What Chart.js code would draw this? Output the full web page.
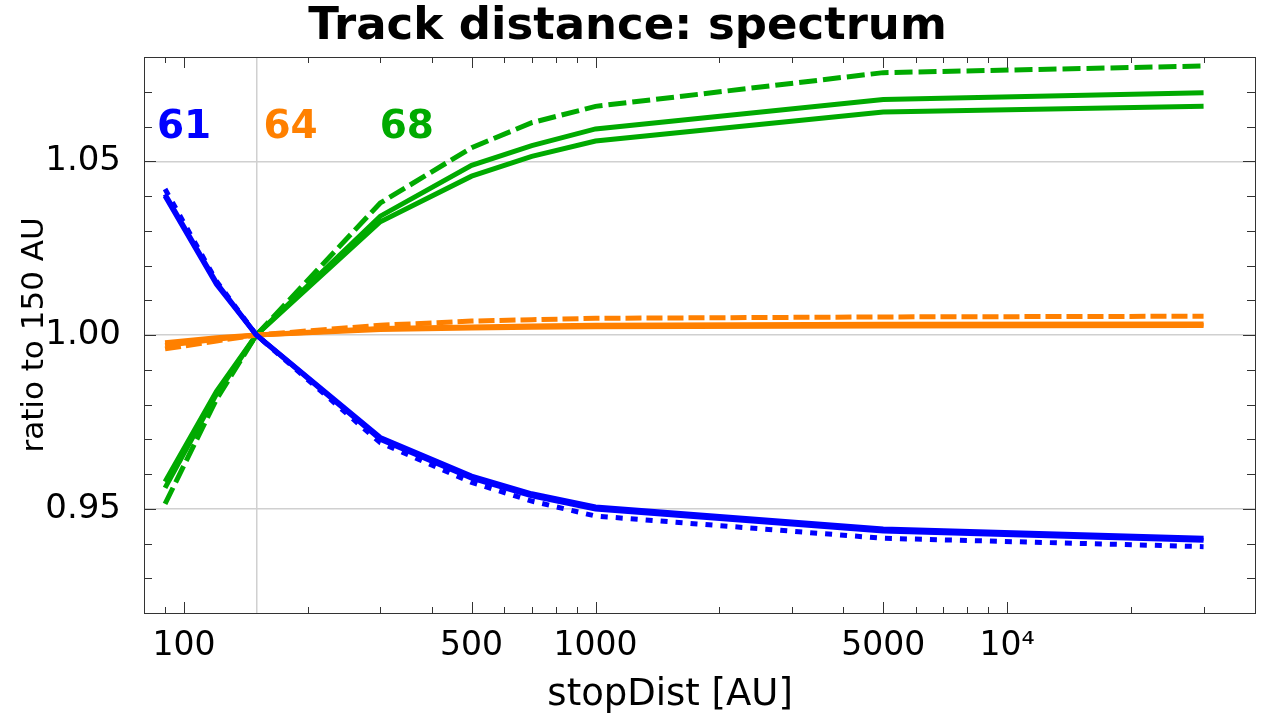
<!DOCTYPE html>
<html>
<head>
<meta charset="utf-8">
<script src="https://cdn.jsdelivr.net/npm/chart.js@4.4.1/dist/chart.umd.min.js"></script>
<style>
  html, body { margin: 0; padding: 0; background: #fff; }
  canvas { display: block; }
</style>
</head>
<body>
<canvas id="chart" width="1263" height="727"></canvas>
<script>
// stopDist values [AU]
const stopDist = [90, 120, 150, 300, 500, 700, 1000, 5000, 30000];

// ratio to 150 AU
const blueSolidA  = [1.0405, 1.0150, 1, 0.9705, 0.9594, 0.9543, 0.9505, 0.9442, 0.9415];
const blueSolidB  = [1.0400, 1.0146, 1, 0.9700, 0.9588, 0.9537, 0.9499, 0.9436, 0.9409];
const blueDotted  = [1.0420, 1.0155, 1, 0.9690, 0.9576, 0.9522, 0.9479, 0.9415, 0.9391];

const orangeSolidA = [0.9978, 0.9992, 1, 1.0019, 1.0023, 1.0026, 1.0028, 1.0031, 1.0032];
const orangeSolidB = [0.9970, 0.9988, 1, 1.0016, 1.0020, 1.0022, 1.0024, 1.0026, 1.0027];
const orangeDashed = [0.9960, 0.9983, 1, 1.0028, 1.0040, 1.0044, 1.0048, 1.0052, 1.0054];

const greenSolidA  = [0.9578, 0.9838, 1, 1.0342, 1.0488, 1.0545, 1.0593, 1.0678, 1.0697];
const greenSolidB  = [0.9560, 0.9830, 1, 1.0326, 1.0457, 1.0514, 1.0558, 1.0642, 1.0658];
const greenDashed  = [0.9514, 0.9815, 1, 1.0380, 1.0539, 1.0611, 1.0658, 1.0755, 1.0774];

// axis ticks
const xLabelTicks = [100, 500, 1000, 5000, 10000];
const xGridTicks = [150];
const xMinorTicks = [90, 200, 300, 400, 600, 700, 800, 900, 2000, 3000, 4000,
                     6000, 7000, 8000, 9000, 20000, 30000];
const yLabelTicks = [0.95, 1.00, 1.05];
const yMinorTicks = [0.93, 0.94, 0.96, 0.97, 0.98, 0.99, 1.01, 1.02, 1.03, 1.04, 1.06, 1.07];

// labels written in the plot
const seriesLabels = ['61', '64', '68'];
const labelX = [86, 156, 299];
const labelY = [1.0568, 1.0568, 1.0568];

const BLUE = '#0000ff';
const ORANGE = '#ff8000';
const GREEN = '#00aa00';
const FONT = "'DejaVu Sans', sans-serif";

function toPoints(ys) {
    return stopDist.map((x, i) => ({ x: x, y: ys[i] }));
}

function line(ys, color, dash) {
    return {
        data: toPoints(ys),
        borderColor: color,
        borderWidth: 5,
        borderDash: dash || [],
        borderCapStyle: 'butt',
        pointRadius: 0,
        tension: 0,
        fill: false,
    };
}

// frame, inward tick marks and the 61/64/68 labels
const framePlugin = {
    id: 'frame',
    afterDraw(chart) {
        const ctx = chart.ctx;
        const area = chart.chartArea;
        const xs = chart.scales.x;
        const ys = chart.scales.y;
        ctx.save();
        ctx.strokeStyle = '#333';
        ctx.lineWidth = 1;
        ctx.beginPath();
        const tickX = (v, len) => {
            const px = Math.round(xs.getPixelForValue(v)) + 0.5;
            ctx.moveTo(px, area.bottom); ctx.lineTo(px, area.bottom - len);
            ctx.moveTo(px, area.top); ctx.lineTo(px, area.top + len);
        };
        const tickY = (v, len) => {
            const py = Math.round(ys.getPixelForValue(v)) + 0.5;
            ctx.moveTo(area.left, py); ctx.lineTo(area.left + len, py);
            ctx.moveTo(area.right, py); ctx.lineTo(area.right - len, py);
        };
        xLabelTicks.forEach(v => tickX(v, 11));
        xMinorTicks.forEach(v => tickX(v, 6));
        yLabelTicks.forEach(v => tickY(v, 12));
        yMinorTicks.forEach(v => tickY(v, 8));
        ctx.stroke();
        ctx.strokeRect(Math.round(area.left) + 0.5, Math.round(area.top) + 0.5,
                       Math.round(area.right - area.left), Math.round(area.bottom - area.top));

        const colors = [BLUE, ORANGE, GREEN];
        ctx.font = 'bold 39px ' + FONT;
        ctx.textAlign = 'left';
        ctx.textBaseline = 'alphabetic';
        seriesLabels.forEach((t, i) => {
            ctx.fillStyle = colors[i];
            ctx.fillText(t, xs.getPixelForValue(labelX[i]), ys.getPixelForValue(labelY[i]));
        });
        ctx.restore();
    }
};

const ctx = document.getElementById('chart').getContext('2d');
new Chart(ctx, {
    type: 'line',
    data: {
        datasets: [
            line(blueDotted, BLUE, [7, 8]),
            line(blueSolidA, BLUE),
            line(blueSolidB, BLUE),
            line(orangeDashed, ORANGE, [16, 5]),
            line(orangeSolidA, ORANGE),
            line(orangeSolidB, ORANGE),
            line(greenDashed, GREEN, [18, 6]),
            line(greenSolidA, GREEN),
            line(greenSolidB, GREEN),
        ],
    },
    options: {
        responsive: false,
        animation: false,
        devicePixelRatio: 1,
        layout: { padding: { left: 0, right: 8, top: 0, bottom: 0 } },
        plugins: {
            legend: { display: false },
            tooltip: { enabled: false },
            title: {
                display: true,
                text: 'Track distance: spectrum',
                color: '#000',
                font: { family: FONT, size: 45, weight: 'bold', lineHeight: 1.2 },
                padding: { top: 0, bottom: 3 },
            },
        },
        scales: {
            x: {
                type: 'logarithmic',
                min: 80,
                max: 40000,
                afterBuildTicks(scale) {
                    scale.ticks = xLabelTicks.concat(xGridTicks)
                        .sort((a, b) => a - b)
                        .map(v => ({ value: v }));
                },
                afterFit(scale) { scale.height = 114; },
                grid: {
                    drawTicks: false,
                    color: c => (c.tick && xGridTicks.includes(c.tick.value)) ? '#d0d0d0' : 'rgba(0,0,0,0)',
                    lineWidth: 1.5,
                },
                border: { display: false },
                ticks: {
                    autoSkip: false,
                    maxRotation: 0,
                    padding: 14,
                    color: '#000',
                    font: { family: FONT, size: 33 },
                    callback(v) {
                        if (!xLabelTicks.includes(v)) return '';
                        return v === 10000 ? '10\u2074' : String(v);
                    },
                },
                title: {
                    display: true,
                    // trailing spaces shift the centred title a little to the left, as in the picture
                    text: 'stopDist [AU]\u00a0\u00a0\u00a0\u00a0\u00a0',
                    color: '#000',
                    font: { family: FONT, size: 37 },
                    padding: { top: 0, bottom: 9 },
                },
            },
            y: {
                min: 0.92,
                max: 1.08,
                afterBuildTicks(scale) {
                    scale.ticks = yLabelTicks.map(v => ({ value: v }));
                },
                afterFit(scale) { scale.width = 144; },
                grid: {
                    drawTicks: false,
                    color: '#d0d0d0',
                    lineWidth: 1.5,
                },
                border: { display: false },
                ticks: {
                    padding: 23,
                    color: '#000',
                    font: { family: FONT, size: 34 },
                    callback: v => v.toFixed(2),
                },
                title: {
                    display: true,
                    text: 'ratio to 150 AU',
                    color: '#000',
                    font: { family: FONT, size: 31 },
                    padding: { top: 16, bottom: 0 },
                },
            },
        },
    },
    plugins: [framePlugin],
});
</script>
</body>
</html>
